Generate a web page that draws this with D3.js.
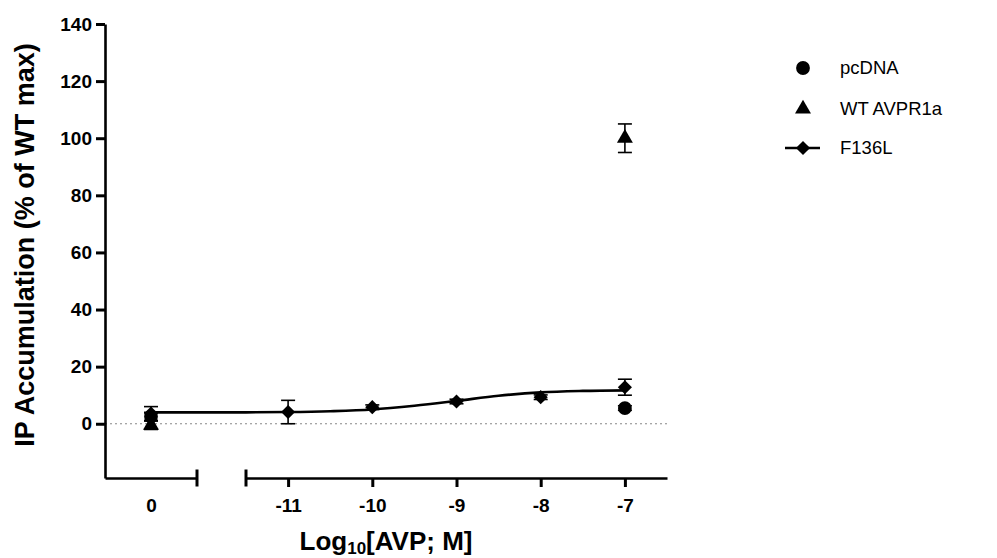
<!DOCTYPE html>
<html>
<head>
<meta charset="utf-8">
<script src="https://cdn.jsdelivr.net/npm/d3@7"></script>
<style>
  html, body { margin: 0; padding: 0; background: #fff; }
  svg { display: block; font-family: "Liberation Sans", Arial, sans-serif; }
</style>
</head>
<body>
<svg id="chart" width="997" height="558"></svg>
<script>
// Log10 agonist dose (0 = no agonist, drawn on its own axis segment)
const pcdnaDose = [0, -7];
const pcdnaMean = [2.5, 5.5];
const pcdnaSem  = [1.5, 0.8];

const wtDose = [0, -7];
const wtMean = [-0.5, 100];
const wtSem  = [1.5, 5];

const f136lDose = [0, -11, -10, -9, -8, -7];
const f136lMean = [3.6, 4.1, 5.8, 7.8, 9.3, 12.8];
const f136lSem  = [2.4, 4.1, 0.8, 0.8, 0.8, 2.8];

// Fitted dose-response curve for F136L
const fitDose     = [0, -11.5, -11, -10.5, -10, -9.5, -9, -8.5, -8, -7.5, -7];
const fitResponse = [4.0, 4.0, 4.1, 4.4, 5.0, 6.3, 8.0, 9.8, 11.0, 11.5, 11.7];

const yTicks = [0, 20, 40, 60, 80, 100, 120, 140];
const xTicksMain = [-11, -10, -9, -8, -7];
const xTickLabelsMain = ["-11", "-10", "-9", "-8", "-7"];
const xTicksZero = [0];
const xTickLabelsZero = ["0"];

const seriesNames = ["pcDNA", "WT AVPR1a", "F136L"];

const svg = d3.select("#chart");

const y = d3.scaleLinear().domain([-19, 140]).range([478, 24]);
const xZero = d3.scaleLinear().domain([-0.55, 0.55]).range([105, 197]);
const xMain = d3.scaleLinear().domain([-11.5, -6.5]).range([246, 667]);
const xPos = v => (v > -0.6 ? xZero(v) : xMain(v));

// zero reference line
svg.append("line")
  .attr("x1", xZero.range()[0]).attr("x2", xMain.range()[1])
  .attr("y1", y(0)).attr("y2", y(0))
  .attr("stroke", "#888").attr("stroke-width", 1.2)
  .attr("stroke-dasharray", "2,3");

// Y axis
const yAxis = svg.append("g")
  .attr("transform", `translate(${xZero.range()[0]},0)`)
  .call(d3.axisLeft(y).tickValues(yTicks).tickSize(9).tickSizeOuter(0).tickPadding(4));

// X axis, zero segment
const xAxisZero = svg.append("g")
  .attr("transform", `translate(0,${y.range()[0]})`)
  .call(d3.axisBottom(xZero).tickValues(xTicksZero)
    .tickFormat((d, i) => xTickLabelsZero[i])
    .tickSize(0).tickSizeOuter(0).tickPadding(21));

// X axis, dose segment
const xAxisMain = svg.append("g")
  .attr("transform", `translate(0,${y.range()[0]})`)
  .call(d3.axisBottom(xMain).tickValues(xTicksMain)
    .tickFormat((d, i) => xTickLabelsMain[i])
    .tickSize(9).tickSizeOuter(0).tickPadding(12));

[yAxis, xAxisZero, xAxisMain].forEach(g => {
  g.select(".domain").attr("stroke", "#000").attr("stroke-width", 2.6);
  g.selectAll(".tick line").attr("stroke", "#000").attr("stroke-width", 3);
  g.selectAll(".tick text")
    .attr("fill", "#000")
    .style("font-family", "'Liberation Sans', Arial, sans-serif")
    .style("font-size", "19px").style("font-weight", "bold");
});

// break marks at the ends of the two x segments
[xZero.range()[1], xMain.range()[0]].forEach(px => {
  svg.append("line")
    .attr("x1", px).attr("x2", px)
    .attr("y1", y.range()[0] - 8.5).attr("y2", y.range()[0] + 8.5)
    .attr("stroke", "#000").attr("stroke-width", 3);
});

// fitted curve
const fitPts = fitDose.map((d, i) => [xPos(d), y(fitResponse[i])]);
svg.append("path")
  .attr("d", d3.line().curve(d3.curveMonotoneX)(fitPts))
  .attr("fill", "none").attr("stroke", "#000").attr("stroke-width", 2.6);

// error bars
function errorBars(dose, mean, sem) {
  const g = svg.append("g").attr("stroke", "#000").attr("stroke-width", 1.6);
  dose.forEach((d, i) => {
    const px = xPos(d);
    const top = y(mean[i] + sem[i]), bot = y(mean[i] - sem[i]);
    g.append("line").attr("x1", px).attr("x2", px).attr("y1", top).attr("y2", bot);
    g.append("line").attr("x1", px - 7).attr("x2", px + 7).attr("y1", top).attr("y2", top);
    g.append("line").attr("x1", px - 7).attr("x2", px + 7).attr("y1", bot).attr("y2", bot);
  });
}
errorBars(wtDose, wtMean, wtSem);
errorBars(f136lDose, f136lMean, f136lSem);
errorBars(pcdnaDose, pcdnaMean, pcdnaSem);

const circleSym = d3.symbol().type(d3.symbolCircle).size(150);
const triSym = d3.symbol().type(d3.symbolTriangle).size(110);
const diaSym = d3.symbol().type(d3.symbolSquare).size(100);

function markers(dose, mean, sym, rotate) {
  svg.append("g").selectAll("path")
    .data(dose)
    .join("path")
    .attr("d", sym)
    .attr("fill", "#000")
    .attr("transform", (d, i) => `translate(${xPos(d)},${y(mean[i])})${rotate ? " rotate(45)" : ""}`);
}
markers(wtDose, wtMean, triSym, false);
markers(f136lDose, f136lMean, diaSym, true);
markers(pcdnaDose, pcdnaMean, circleSym, false);

// axis titles
svg.append("text")
  .attr("transform", "translate(34,245) rotate(-90)")
  .attr("text-anchor", "middle")
  .style("font-size", "27px").style("font-weight", "bold")
  .text("IP Accumulation (% of WT max)");

const xTitle = svg.append("text")
  .attr("x", 386).attr("y", 550)
  .attr("text-anchor", "middle")
  .style("font-size", "26px").style("font-weight", "bold");
xTitle.append("tspan").text("Log");
xTitle.append("tspan").attr("dy", 4).style("font-size", "17px").text("10");
xTitle.append("tspan").attr("dy", -4).text("[AVP; M]");

// legend
const legend = svg.append("g").attr("transform", "translate(803,0)");
const legendY = [68, 109, 148];
legend.append("path").attr("d", circleSym).attr("transform", `translate(0,${legendY[0]})`);
legend.append("path").attr("d", triSym).attr("transform", `translate(0,${legendY[1]})`);
legend.append("line").attr("x1", -18).attr("x2", 17)
  .attr("y1", legendY[2]).attr("y2", legendY[2])
  .attr("stroke", "#000").attr("stroke-width", 2.6);
legend.append("path").attr("d", diaSym).attr("transform", `translate(0,${legendY[2]}) rotate(45)`);
legend.selectAll("text.lbl")
  .data(seriesNames)
  .join("text")
  .attr("class", "lbl")
  .attr("x", 37)
  .attr("y", (d, i) => legendY[i])
  .attr("dy", "0.35em")
  .style("font-size", "18.5px")
  .text(d => d);
</script>
</body>
</html>
